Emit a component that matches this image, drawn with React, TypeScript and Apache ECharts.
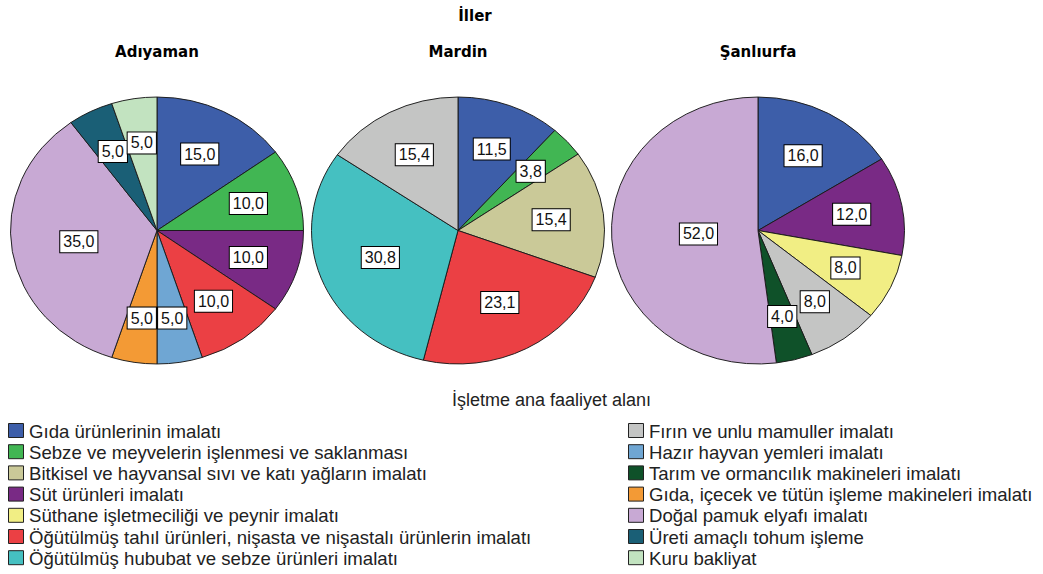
import React, { useEffect, useRef } from "react";
import * as echarts from "echarts";

// ---- data ----
const chartTitle = "İller";
const legendTitle = "İşletme ana faaliyet alanı";
const categories = [
  "Gıda ürünlerinin imalatı",
  "Sebze ve meyvelerin işlenmesi ve saklanması",
  "Bitkisel ve hayvansal sıvı ve katı yağların imalatı",
  "Süt ürünleri imalatı",
  "Süthane işletmeciliği ve peynir imalatı",
  "Öğütülmüş tahıl ürünleri, nişasta ve nişastalı ürünlerin imalatı",
  "Öğütülmüş hububat ve sebze ürünleri imalatı",
  "Fırın ve unlu mamuller imalatı",
  "Hazır hayvan yemleri imalatı",
  "Tarım ve ormancılık makineleri imalatı",
  "Gıda, içecek ve tütün işleme makineleri imalatı",
  "Doğal pamuk elyafı imalatı",
  "Üreti amaçlı tohum işleme",
  "Kuru bakliyat",
];
const categoryColors = [
  "#3d5ea9", "#41b653", "#cac998", "#792a85", "#f1ee84", "#eb4044", "#45c0c1",
  "#c4c5c4", "#6fa6d3", "#0f5129", "#f39a35", "#c8a9d4", "#1a5f76", "#c2e3c0",
];
const provinces = ["Adıyaman", "Mardin", "Şanlıurfa"];

const adiyamanCategories = [
  "Gıda ürünlerinin imalatı",
  "Sebze ve meyvelerin işlenmesi ve saklanması",
  "Süt ürünleri imalatı",
  "Öğütülmüş tahıl ürünleri, nişasta ve nişastalı ürünlerin imalatı",
  "Hazır hayvan yemleri imalatı",
  "Gıda, içecek ve tütün işleme makineleri imalatı",
  "Doğal pamuk elyafı imalatı",
  "Üreti amaçlı tohum işleme",
  "Kuru bakliyat",
];
const adiyamanValues = [15.0, 10.0, 10.0, 10.0, 5.0, 5.0, 35.0, 5.0, 5.0];

const mardinCategories = [
  "Gıda ürünlerinin imalatı",
  "Sebze ve meyvelerin işlenmesi ve saklanması",
  "Bitkisel ve hayvansal sıvı ve katı yağların imalatı",
  "Öğütülmüş tahıl ürünleri, nişasta ve nişastalı ürünlerin imalatı",
  "Öğütülmüş hububat ve sebze ürünleri imalatı",
  "Fırın ve unlu mamuller imalatı",
];
const mardinValues = [11.5, 3.8, 15.4, 23.1, 30.8, 15.4];

const sanliurfaCategories = [
  "Gıda ürünlerinin imalatı",
  "Süt ürünleri imalatı",
  "Süthane işletmeciliği ve peynir imalatı",
  "Fırın ve unlu mamuller imalatı",
  "Tarım ve ormancılık makineleri imalatı",
  "Doğal pamuk elyafı imalatı",
];
const sanliurfaValues = [16.0, 12.0, 8.0, 8.0, 4.0, 52.0];

const provinceData = [
  { cats: adiyamanCategories, vals: adiyamanValues },
  { cats: mardinCategories, vals: mardinValues },
  { cats: sanliurfaCategories, vals: sanliurfaValues },
];

// ---- layout ----
const W = 1043;
const H = 574;
const pieCX = [157, 458, 758];
const pieCY = 230.5;
const RX = 146.5;
const RY = 133.5;
const KY = RY / RX;
const LABEL_FONT = '16px "Liberation Sans", Arial, sans-serif';
const LEGEND_TITLE_FONT = '18px "Liberation Sans", Arial, sans-serif';
const LEGEND_FONT = '18.6px "Liberation Sans", Arial, sans-serif';
const BOLD_FONT = 'bold 15px "DejaVu Sans", Verdana, sans-serif';

const fmt = (v: number) => v.toFixed(1).replace(".", ",");

function makeSeries(cats: string[], vals: number[], cx: number, idx: number) {
  const total = vals.reduce((a, b) => a + b, 0);
  const starts: number[] = [];
  let acc = 0;
  vals.forEach((v) => {
    starts.push(acc);
    acc += v;
  });
  return {
    type: "custom",
    name: provinces[idx],
    coordinateSystem: "none",
    data: vals.map((v, i) => ({ value: v, name: cats[i] })),
    renderItem: (params: any) => {
      const i = params.dataIndex;
      const v = vals[i];
      const a0 = -Math.PI / 2 + (starts[i] / total) * Math.PI * 2;
      const a1 = a0 + (v / total) * Math.PI * 2;
      const th = a1 - a0;
      const mid = (a0 + a1) / 2;
      const d = (4 * RX * Math.sin(th / 2)) / (3 * th);
      const lx = cx + d * Math.cos(mid);
      const ly = pieCY + d * Math.sin(mid) * KY;
      const color = categoryColors[categories.indexOf(cats[i])];
      return {
        type: "group",
        children: [
          {
            type: "group",
            x: cx,
            y: pieCY,
            scaleY: KY,
            children: [
              {
                type: "sector",
                shape: { cx: 0, cy: 0, r: RX, r0: 0, startAngle: a0, endAngle: a1, clockwise: true },
                style: { fill: color, stroke: "#1a1a1a", lineWidth: 1, strokeNoScale: true },
              },
            ],
          },
          {
            type: "text",
            x: lx,
            y: ly,
            z2: 100,
            style: {
              text: fmt(v),
              font: LABEL_FONT,
              fill: "#111",
              align: "center",
              verticalAlign: "middle",
              backgroundColor: "#fff",
              borderColor: "#000",
              borderWidth: 1,
              padding: [3, 3, 2, 3],
            },
          },
        ],
      };
    },
  };
}

function buildGraphics() {
  const g: any[] = [];
  g.push({
    type: "text",
    x: 475,
    y: 16,
    style: { text: chartTitle, font: BOLD_FONT, fill: "#000", align: "center", verticalAlign: "middle" },
  });
  provinces.forEach((p, i) => {
    g.push({
      type: "text",
      x: pieCX[i],
      y: 52,
      style: { text: p, font: BOLD_FONT, fill: "#000", align: "center", verticalAlign: "middle" },
    });
  });
  g.push({
    type: "text",
    x: 452,
    y: 400,
    style: { text: legendTitle, font: LEGEND_TITLE_FONT, fill: "#222", align: "left", verticalAlign: "middle" },
  });
  const colX = [8, 628];
  categories.forEach((c, i) => {
    const col = Math.floor(i / 7);
    const row = i % 7;
    const yc = 431 + row * 21.2;
    g.push({
      type: "rect",
      shape: { x: colX[col] + 0.5, y: yc - 7.5, width: 15, height: 14 },
      style: { fill: categoryColors[i], stroke: "#222", lineWidth: 1 },
    });
    g.push({
      type: "text",
      x: colX[col] + 21,
      y: yc,
      style: { text: c, font: LEGEND_FONT, fill: "#222", align: "left", verticalAlign: "middle" },
    });
  });
  return g;
}

export default function App() {
  const ref = useRef<HTMLDivElement>(null);
  useEffect(() => {
    if (!ref.current) return;
    const chart = echarts.init(ref.current, null, { renderer: "svg" });
    chart.setOption({
      animation: false,
      backgroundColor: "#fff",
      series: provinceData.map((p, i) => makeSeries(p.cats, p.vals, pieCX[i], i)),
      graphic: buildGraphics(),
    });
    return () => chart.dispose();
  }, []);
  return (
    <div
      ref={ref}
      style={{ position: "fixed", left: 0, top: 0, width: W, height: H, background: "#fff" }}
    />
  );
}
